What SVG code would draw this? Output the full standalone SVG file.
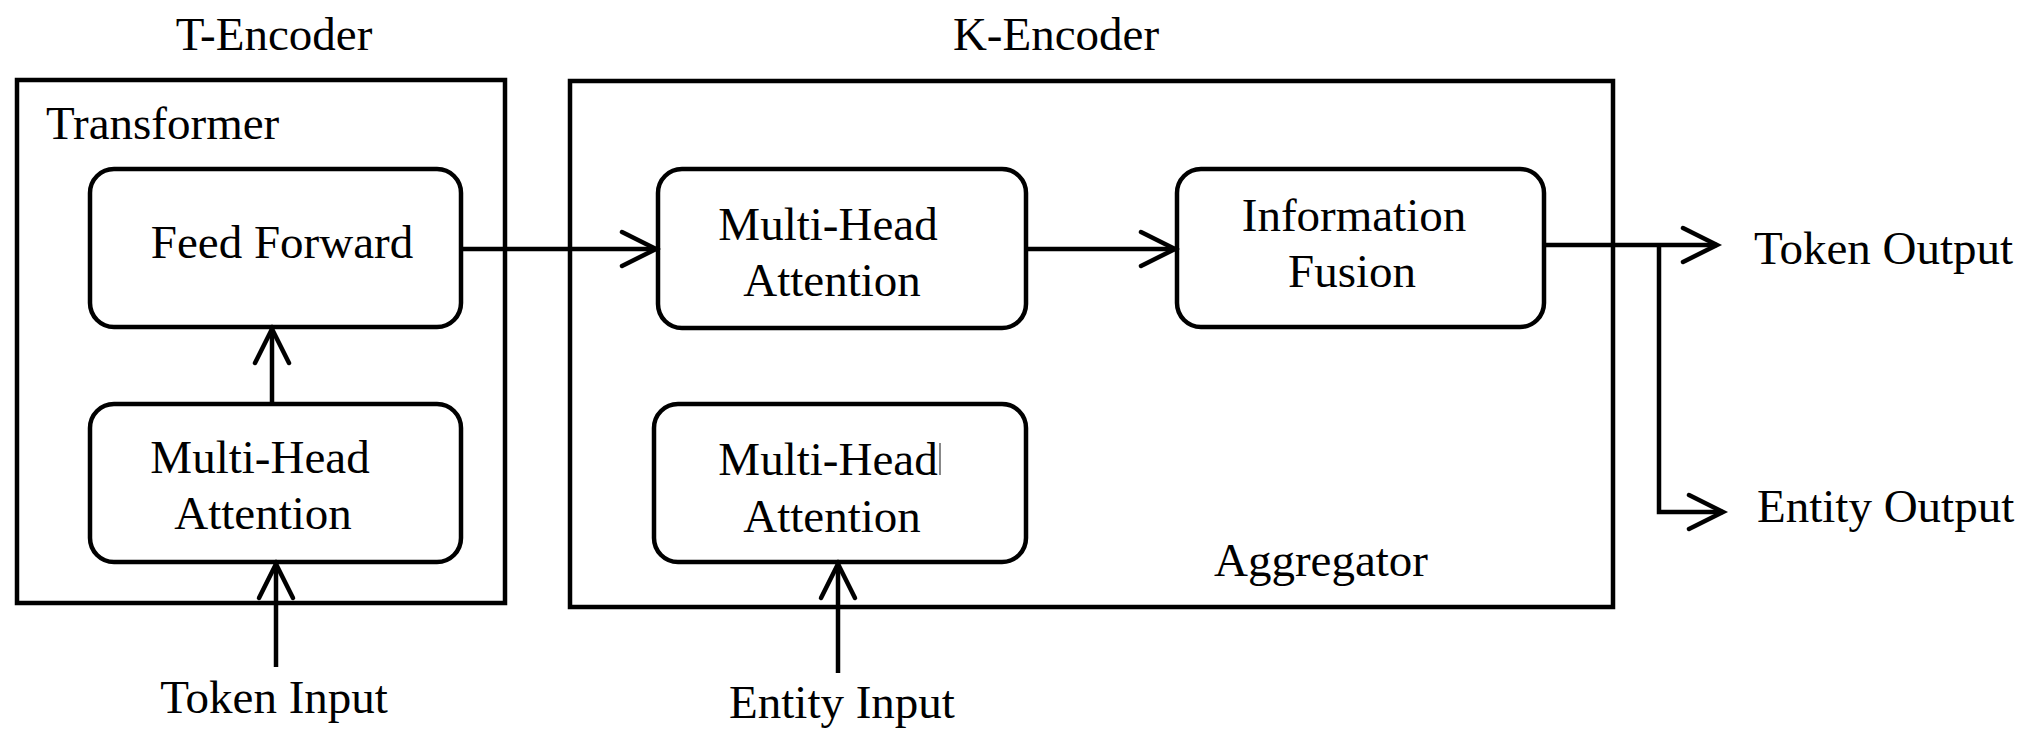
<svg xmlns="http://www.w3.org/2000/svg" width="2028" height="738" viewBox="0 0 2028 738">
<style>
.frame{fill:none;stroke:#000;stroke-width:4.5}
.box{fill:#fff;stroke:#000;stroke-width:4.5}
.t{font-family:"Liberation Serif","Times New Roman",serif;font-size:47px;fill:#000}
.c{text-anchor:middle}
.conn{fill:none;stroke:#000;stroke-width:4.5}
</style>
<defs>
<marker id="arr" markerUnits="userSpaceOnUse" viewBox="-42 -22 48 44" markerWidth="48" markerHeight="44" refX="0" refY="0" orient="auto">
<path d="M-34,-17 L0,0 L-34,17" fill="none" stroke="#000" stroke-width="4.5" stroke-linecap="round" stroke-linejoin="miter"/>
</marker>
</defs>
<rect width="2028" height="738" fill="#fff"/>

<g id="t-encoder">
<rect class="frame" x="17" y="80" width="488" height="523"/>
<text class="t c" x="274" y="50">T-Encoder</text>
<text class="t" x="46" y="139">Transformer</text>
</g>

<g id="k-encoder">
<rect class="frame" x="570" y="81" width="1043" height="526"/>
<text class="t c" x="1056" y="50">K-Encoder</text>
<text class="t c" x="1321" y="576">Aggregator</text>
</g>

<g id="feed-forward">
<rect class="box" x="90" y="169" width="371" height="158" rx="24" ry="24"/>
<text class="t c" x="282" y="258">Feed Forward</text>
</g>

<g id="t-mha">
<rect class="box" x="90" y="404" width="371" height="158" rx="24" ry="24"/>
<text class="t c" x="260" y="473">Multi-Head</text>
<text class="t c" x="263" y="529">Attention</text>
</g>

<g id="k-mha-token">
<rect class="box" x="658" y="169" width="368" height="159" rx="24" ry="24"/>
<text class="t c" x="828" y="240">Multi-Head</text>
<text class="t c" x="832" y="296">Attention</text>
</g>

<g id="k-mha-entity">
<rect class="box" x="654" y="404" width="372" height="158" rx="24" ry="24"/>
<text class="t c" x="828" y="475">Multi-Head</text>
<rect x="939" y="443" width="2" height="32" fill="#888"/>
<text class="t c" x="832" y="532">Attention</text>
</g>

<g id="info-fusion">
<rect class="box" x="1177" y="169" width="367" height="158" rx="24" ry="24"/>
<text class="t c" x="1354" y="231">Information</text>
<text class="t c" x="1352" y="287">Fusion</text>
</g>

<g id="token-input"><text class="t c" x="274" y="713">Token Input</text></g>
<g id="entity-input"><text class="t c" x="842" y="718">Entity Input</text></g>
<g id="token-output"><text class="t" x="1754" y="264">Token Output</text></g>
<g id="entity-output"><text class="t" x="1757" y="522">Entity Output</text></g>

<g id="connectors">
<line class="conn" x1="272" y1="404" x2="272" y2="329" marker-end="url(#arr)"/>
<line class="conn" x1="276" y1="667" x2="276" y2="564" marker-end="url(#arr)"/>
<line class="conn" x1="461" y1="249" x2="656" y2="249" marker-end="url(#arr)"/>
<line class="conn" x1="1026" y1="249" x2="1175" y2="249" marker-end="url(#arr)"/>
<line class="conn" x1="838" y1="673" x2="838" y2="564" marker-end="url(#arr)"/>
<line class="conn" x1="1544" y1="245" x2="1717" y2="245" marker-end="url(#arr)"/>
<path class="conn" d="M1659,245 V512 H1723" marker-end="url(#arr)"/>
</g>
</svg>
